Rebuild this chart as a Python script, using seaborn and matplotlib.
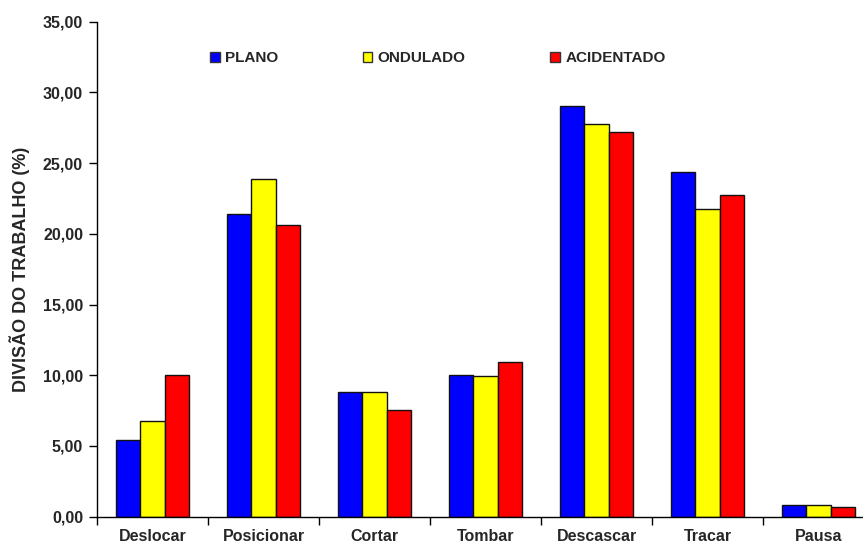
import matplotlib
matplotlib.use("Agg")
import matplotlib.pyplot as plt
import seaborn as sns
import pandas as pd
from matplotlib.patches import Patch
from matplotlib.ticker import FixedLocator, FuncFormatter

atividades = ["Deslocar", "Posicionar", "Cortar", "Tombar", "Descascar", "Tracar", "Pausa"]
terrenos = ["PLANO", "ONDULADO", "ACIDENTADO"]
plano = [5.40, 21.40, 8.82, 10.04, 29.07, 24.38, 0.85]
ondulado = [6.79, 23.90, 8.84, 9.92, 27.80, 21.78, 0.85]
acidentado = [10.04, 20.65, 7.57, 10.96, 27.20, 22.77, 0.69]
cores = ["#0000FF", "#FFFF00", "#FF0000"]
y_ticks = [0, 5, 10, 15, 20, 25, 30, 35]

rows = []
for terreno, valores in zip(terrenos, [plano, ondulado, acidentado]):
    for atividade, v in zip(atividades, valores):
        rows.append({"atividade": atividade, "terreno": terreno, "valor": v})
df = pd.DataFrame(rows)

sns.set_style("white")
plt.rcParams["font.family"] = ["Liberation Sans", "DejaVu Sans"]
plt.rcParams["font.weight"] = "bold"

fs_tick = 11.5
fs_leg = 11
fs_label = 13
fig = plt.figure(figsize=(8.63, 5.45), dpi=100)
W, H = 863, 545
ax = fig.add_axes([97 / W, (H - 516.7) / H, 777 / W, 495 / H])

sns.barplot(data=df, x="atividade", y="valor", hue="terreno", order=atividades,
            hue_order=terrenos, palette=cores, saturation=1, width=0.66, gap=0,
            edgecolor="#111111", linewidth=1.0, errorbar=None, ax=ax, legend=False)

ax.set_xlim(-0.5, len(atividades) - 0.5)
ax.set_ylim(0, 35)
ax.set_yticks(y_ticks)
ax.yaxis.set_major_formatter(FuncFormatter(lambda v, p: f"{v:.2f}".replace(".", ",")))

for s in ["top", "right"]:
    ax.spines[s].set_visible(False)
for s in ["left", "bottom"]:
    ax.spines[s].set_color("black")
    ax.spines[s].set_linewidth(1.0)

ax.tick_params(axis="y", direction="out", length=6, width=1, color="black",
               labelsize=fs_tick, pad=4, left=True)
ax.tick_params(axis="x", which="major", length=0, labelsize=fs_tick, pad=9)
ax.xaxis.set_minor_locator(FixedLocator([i - 0.5 for i in range(len(atividades) + 1)]))
ax.tick_params(axis="x", which="minor", direction="out", length=6, width=1,
               color="black", bottom=True)
for lab in ax.get_xticklabels() + ax.get_yticklabels():
    lab.set_fontweight("bold")

ax.set_xlabel("")
ax.set_ylabel("DIVISÃO DO TRABALHO (%)", fontsize=fs_label, fontweight="bold")
ax.yaxis.set_label_coords(-0.086, 0.5)

handles = [Patch(facecolor=c, edgecolor="#333333", linewidth=1.0) for c in cores]
fig.legend(handles, terrenos, loc="center left", ncol=3,
           bbox_to_anchor=(210 / W, 1 - 58 / H), bbox_transform=fig.transFigure,
           frameon=False, borderpad=0, borderaxespad=0, handlelength=0.65,
           handleheight=0.65, handletextpad=0.35, columnspacing=5.5,
           prop={"size": fs_leg, "weight": "bold"})

fig.savefig("out.png", dpi=100)
